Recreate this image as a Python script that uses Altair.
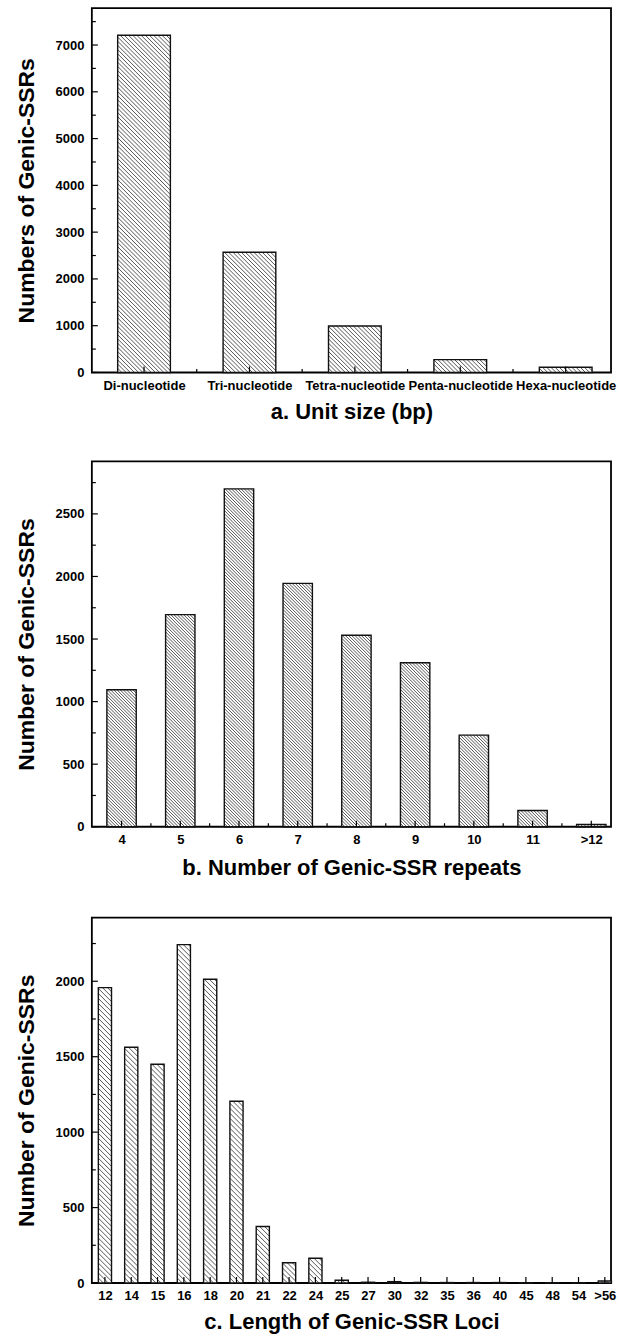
import json
import altair as alt
import pandas as pd

FONT = "Liberation Sans"
W = 520

# ---- data ----
unit_labels = ["Di-nucleotide", "Tri-nucleotide", "Tetra-nucleotide", "Penta-nucleotide", "Hexa-nucleotide"]
unit_counts = [7210, 2570, 995, 275, 112]

repeat_labels = ["4", "5", "6", "7", "8", "9", "10", "11", ">12"]
repeat_counts = [1095, 1695, 2700, 1945, 1530, 1310, 732, 130, 18]

length_labels = ["12", "14", "15", "16", "18", "20", "21", "22", "24", "25",
                 "27", "30", "32", "35", "36", "40", "45", "48", "54", ">56"]
length_counts = [1958, 1563, 1450, 2243, 2013, 1205, 375, 134, 164, 18,
                 5, 9, 4, 3, 3, 3, 2, 2, 2, 13]

a_y_major = [0, 1000, 2000, 3000, 4000, 5000, 6000, 7000]
a_y_minor = [500, 1500, 2500, 3500, 4500, 5500, 6500, 7500]
b_y_major = [0, 500, 1000, 1500, 2000, 2500]
b_y_minor = [250, 750, 1250, 1750, 2250, 2750]
c_y_major = [0, 500, 1000, 1500, 2000]
c_y_minor = [250, 750, 1250, 1750, 2250]

BAR_HALF = 0.25


def panel(labels, counts, xdom, ydom, ymajor, yminor, xtitle, ytitle,
          hatch_step, H, title_pad=9, minor_x=True):
    n = len(labels)
    idx = list(range(1, n + 1))
    bars = pd.DataFrame({"i": idx, "label": labels, "count": counts})
    bars["x0"] = bars["i"] - BAR_HALF
    bars["x1"] = bars["i"] + BAR_HALF
    bars["y0"] = 0

    # diagonal hatch segments ("\\\\") clipped to each bar, built from the bar values
    px_x = W / (xdom[1] - xdom[0])
    px_y = H / (ydom[1] - ydom[0])
    rows = []
    for i, c in zip(idx, counts):
        wb = 2 * BAR_HALF * px_x
        hb = c * px_y
        k = 1
        while k * hatch_step < wb + hb:
            cc = k * hatch_step
            u1, v1 = max(0.0, cc - hb), min(cc, hb)
            u2, v2 = min(cc, wb), max(0.0, cc - wb)
            rows.append({"x0": i - BAR_HALF + u1 / px_x, "count": v1 / px_y,
                         "x1": i - BAR_HALF + u2 / px_x, "y0": v2 / px_y})
            k += 1
    hatch = pd.DataFrame(rows)

    xscale = alt.Scale(domain=xdom, nice=False, zero=False)
    yscale = alt.Scale(domain=ydom, nice=False, zero=True)

    label_expr = json.dumps(labels) + "[datum.value - 1]"

    xaxis = alt.Axis(values=idx, labelExpr=label_expr, title=xtitle,
                     ticks=False, domain=False, grid=False,
                     labelFont=FONT, labelFontSize=13, labelFontWeight="bold",
                     labelColor="black", labelPadding=7, labelOverlap=False,
                     labelAngle=0, labelFlush=False,
                     titleFont=FONT, titleFontSize=22, titleFontWeight="bold",
                     titleColor="black", titlePadding=title_pad)
    yaxis = alt.Axis(values=ymajor, format="d", title=ytitle,
                     ticks=False, domain=False, grid=False,
                     labelFont=FONT, labelFontSize=13, labelFontWeight="bold",
                     labelColor="black", labelPadding=8, labelFlush=False,
                     titleFont=FONT, titleFontSize=23, titleFontWeight="bold",
                     titleColor="black", titlePadding=17)

    X = alt.X("x0:Q", scale=xscale, axis=xaxis)
    Y = alt.Y("count:Q", scale=yscale, axis=yaxis)

    fill = alt.Chart(bars).mark_rect(fill="white", strokeWidth=0).encode(
        x=X, x2="x1:Q", y=Y, y2="y0:Q")
    hatch_layer = alt.Chart(hatch).mark_rule(color="#1e1e1e", strokeWidth=0.75).encode(
        x=X, x2="x1:Q", y=Y, y2="y0:Q")
    outline = alt.Chart(bars).mark_rect(fillOpacity=0, stroke="#111111", strokeWidth=1.4).encode(
        x=X, x2="x1:Q", y=Y, y2="y0:Q")

    # inward ticks
    xt_major = alt.Chart(pd.DataFrame({"x0": idx})).mark_rule(color="black", strokeWidth=1.2).encode(
        x=X, y=alt.value(H), y2=alt.value(H - 6))
    yt_major = alt.Chart(pd.DataFrame({"count": ymajor})).mark_rule(color="black", strokeWidth=1.2).encode(
        y=Y, x=alt.value(0), x2=alt.value(6))
    yt_minor = alt.Chart(pd.DataFrame({"count": yminor})).mark_rule(color="black", strokeWidth=1.2).encode(
        y=Y, x=alt.value(0), x2=alt.value(4))
    layers = [fill, hatch_layer, outline, xt_major, yt_major, yt_minor]
    if minor_x:
        mids = [i + 0.5 for i in idx[:-1]]
        xt_minor = alt.Chart(pd.DataFrame({"x0": mids})).mark_rule(color="black", strokeWidth=1.2).encode(
            x=X, y=alt.value(H), y2=alt.value(H - 3.5))
        layers.append(xt_minor)
    return alt.layer(*layers).properties(width=W, height=H)


pa = panel(unit_labels, unit_counts, [0.505, 5.43], [0, 7790], a_y_major, a_y_minor,
           "a. Unit size (bp)", "Numbers of Genic-SSRs", 4.2, H=365, title_pad=9)
pb = panel(repeat_labels, repeat_counts, [0.494, 9.336], [0, 2920], b_y_major, b_y_minor,
           "b. Number of Genic-SSR repeats", "Number of Genic-SSRs", 3.2, H=366, title_pad=11)
pc = panel(length_labels, length_counts, [0.503, 20.235], [0, 2422], c_y_major, c_y_minor,
           "c. Length of Genic-SSR Loci", "Number of Genic-SSRs", 5.0, H=366, title_pad=9,
           minor_x=False)

chart = alt.vconcat(pa, pb, pc, spacing=37).properties(
    padding={"left": 14, "top": 6, "right": 2, "bottom": 2},
    background="white",
).configure_view(stroke="black", strokeWidth=1.8)

chart.save("out.html", embed_options={"renderer": "svg", "actions": False})
